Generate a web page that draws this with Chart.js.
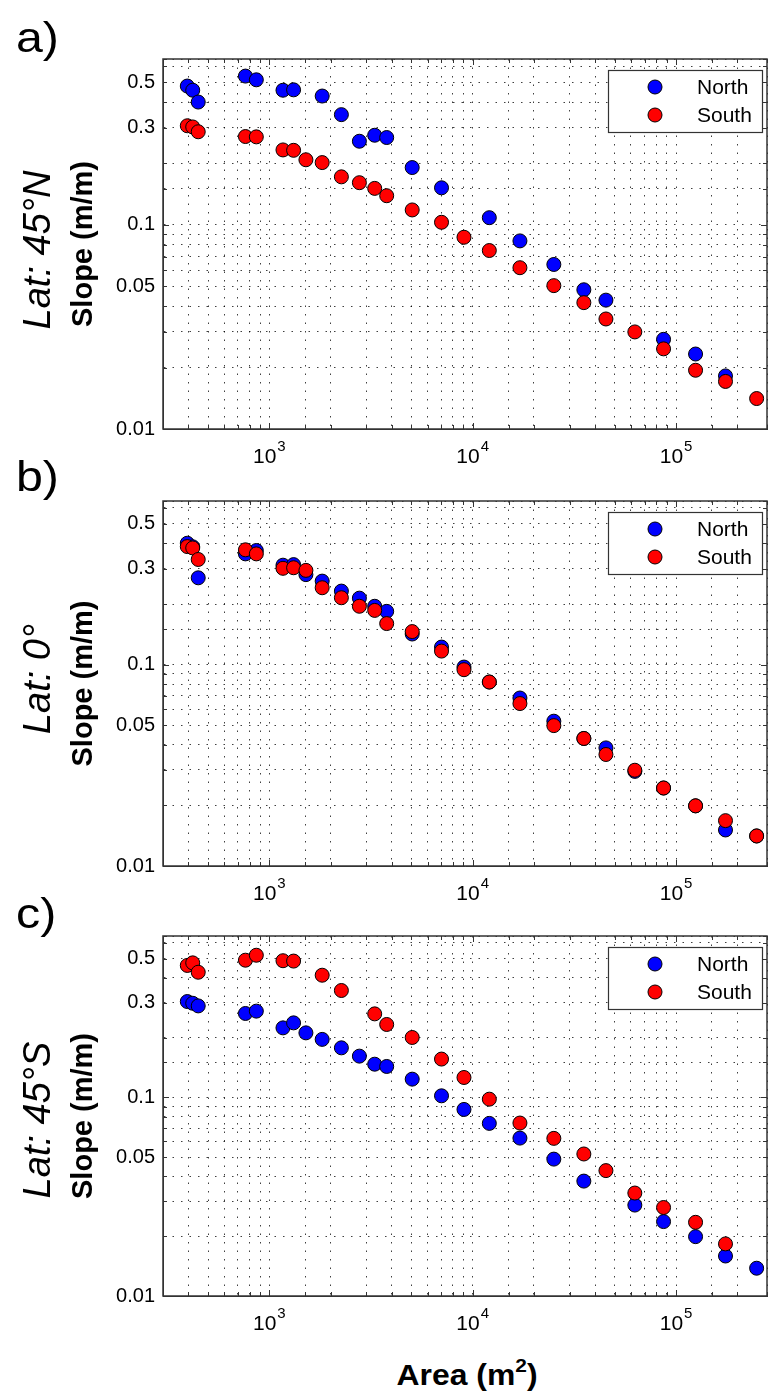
<!DOCTYPE html>
<html>
<head>
<meta charset="utf-8">
<script src="https://cdn.jsdelivr.net/npm/chart.js@4.4.1/dist/chart.umd.min.js"></script>
<style>
    body { margin: 0; background: #fff; }
    #page { position: relative; width: 769px; height: 1399px; overflow: hidden;
            font-family: "Liberation Sans", Arial, sans-serif; color: #000; }
    canvas { position: absolute; left: 0; }
    .letter { position: absolute; left: 16px; font-size: 42px; line-height: 42px;
              transform: scaleX(1.15); transform-origin: left center; }
    .lat { position: absolute; width: 300px; height: 40px; line-height: 40px; font-size: 38px;
           font-style: italic; text-align: center; white-space: nowrap; transform: rotate(-90deg); }
    #areaTitle { position: absolute; left: 317px; top: 1355px; width: 300px; height: 40px;
                 line-height: 40px; font-size: 29px; font-weight: bold; text-align: center;
                 white-space: nowrap; transform: scaleX(1.1); }
    #areaTitle sup { font-size: 19px; line-height: 0; vertical-align: 13px; }
</style>
</head>
<body>
<div id="page">
    <div id="areaTitle">Area (m<sup>2</sup>)</div>
</div>
<script>
// drainage area of each bin (m^2)
const areas = [395, 420, 447, 763, 863, 1167, 1316, 1513, 1819, 2261, 2772, 3297, 3776,
               5041, 7025, 9060, 12070, 17070, 25060, 35200, 45200, 62700, 86800,
               124700, 175000, 249000];

// slope (m/m) per panel, null where no marker is shown
const northA = [0.479, 0.457, 0.400, 0.536, 0.514, 0.457, 0.459, null, 0.428, 0.347, 0.257, 0.275, 0.268,
                0.191, 0.152, null, 0.1085, 0.0835, 0.064, 0.0481, 0.0428, null, 0.0275,
                0.0233, 0.0182, null];
const southA = [0.306, 0.302, 0.286, 0.271, 0.270, 0.233, 0.232, 0.2085, 0.202, 0.172, 0.161, 0.151, 0.139,
                0.1184, 0.103, 0.087, 0.0749, 0.0617, 0.0504, 0.0416, 0.0346, 0.0299, 0.0247,
                0.0194, 0.0171, 0.0141];

const northB = [0.401, 0.385, 0.270, 0.355, 0.369, 0.312, 0.314, 0.280, 0.260, 0.232, 0.214, 0.195, 0.184,
                0.142, 0.1223, 0.0973, 0.082, 0.0683, 0.0524, 0.043, 0.0386, 0.0295, 0.0244,
                0.0199, 0.0151, 0.0141];
const southB = [0.386, 0.380, 0.333, 0.372, 0.355, 0.301, 0.303, 0.294, 0.241, 0.215, 0.195, 0.186, 0.160,
                0.146, 0.1168, 0.0944, 0.082, 0.0641, 0.0498, 0.043, 0.0358, 0.0299, 0.0244,
                0.0199, 0.0168, 0.0141];

const northC = [0.304, 0.298, 0.289, 0.2647, 0.272, 0.224, 0.2374, 0.2114, 0.196, 0.1777, 0.1614, 0.147, 0.1432,
                0.1236, 0.1019, 0.087, 0.074, 0.0624, 0.0489, 0.0379, null, 0.0287, 0.0237,
                0.0199, 0.0159, 0.0138];
const southC = [0.462, 0.476, 0.427, 0.491, 0.520, 0.488, 0.486, null, 0.4125, 0.3455, null, 0.2635, 0.233,
                0.2004, 0.156, 0.126, 0.098, 0.0743, 0.0622, 0.0519, 0.0428, 0.033, 0.0279,
                0.0235, 0.0183, null];

const slopeTicks = [0.01, 0.05, 0.1, 0.3, 0.5];
const slopeTickLabels = ["0.01", "0.05", "0.1", "0.3", "0.5"];
const areaTicks = [1e3, 1e4, 1e5];
const areaTickExp = ["3", "4", "5"];
const seriesNames = ["North", "South"];
const latLabels = ["Lat: 45\u00B0N", "Lat: 0\u00B0", "Lat: 45\u00B0S"];
const letters = ["a)", "b)", "c)"];

const FONT = "'Liberation Sans', Arial, sans-serif";

const panels =
[
    { north: northA, south: southA, top: 0,   height: 475, plotTop: 59, plotBottom: 429, latY: 250,  letterTop: 17 },
    { north: northB, south: southB, top: 475, height: 430, plotTop: 26, plotBottom: 391, latY: 679,  letterTop: 456 },
    { north: northC, south: southC, top: 905, height: 494, plotTop: 31, plotBottom: 391, latY: 1120, letterTop: 893 }
];

function points(vals)
{
    const out = [];
    for(let i = 0; i < areas.length; i += 1)
    {
        if(vals[i] !== null)
        {
            out.push({ x: areas[i], y: vals[i] });
        }
    }
    return out;
}

function findLabel(v, ticks, labels)
{
    for(let i = 0; i < ticks.length; i += 1)
    {
        if(Math.abs(v - ticks[i]) / ticks[i] < 1e-6)
        {
            return labels[i];
        }
    }
    return "";
}

function isDecade(v)
{
    const l = Math.log10(v);
    return Math.abs(l - Math.round(l)) < 1e-6;
}

// box, inward tick marks, 10^n labels and in-axes legend
const framePlugin =
{
    id: "frame",
    afterDraw(chart)
    {
        const ctx = chart.ctx;
        const a = chart.chartArea;
        const xs = chart.scales.x;
        const ys = chart.scales.y;

        ctx.save();
        ctx.strokeStyle = "#333";
        ctx.lineWidth = 1;
        ctx.beginPath();
        for(const t of xs.ticks)
        {
            const px = Math.round(xs.getPixelForValue(t.value)) + 0.5;
            const len = isDecade(t.value) ? 6 : 4;
            ctx.moveTo(px, a.bottom);
            ctx.lineTo(px, a.bottom - len);
            ctx.moveTo(px, a.top);
            ctx.lineTo(px, a.top + len);
        }
        for(const t of ys.ticks)
        {
            const py = Math.round(ys.getPixelForValue(t.value)) + 0.5;
            const len = isDecade(t.value) ? 6 : 4;
            ctx.moveTo(a.left, py);
            ctx.lineTo(a.left + len, py);
            ctx.moveTo(a.right, py);
            ctx.lineTo(a.right - len, py);
        }
        ctx.stroke();

        ctx.lineWidth = 1.5;
        ctx.strokeRect(a.left, a.top, a.right - a.left, a.bottom - a.top);

        // x tick labels as 10 with a raised exponent
        ctx.fillStyle = "#000";
        ctx.textBaseline = "alphabetic";
        ctx.textAlign = "left";
        for(let i = 0; i < areaTicks.length; i += 1)
        {
            const px = xs.getPixelForValue(areaTicks[i]);
            ctx.font = "21px " + FONT;
            const wBase = ctx.measureText("10").width;
            ctx.font = "15px " + FONT;
            const wExp = ctx.measureText(areaTickExp[i]).width;
            const x0 = px - (wBase + wExp + 1) / 2;
            ctx.font = "21px " + FONT;
            ctx.fillText("10", x0, a.bottom + 34);
            ctx.font = "15px " + FONT;
            ctx.fillText(areaTickExp[i], x0 + wBase + 1, a.bottom + 22);
        }

        // legend box
        const bw = 154;
        const bh = 62;
        const bx = a.right - 5 - bw;
        const by = a.top + 11;
        ctx.fillStyle = "#fff";
        ctx.fillRect(bx, by, bw, bh);
        ctx.lineWidth = 1.2;
        ctx.strokeStyle = "#333";
        ctx.strokeRect(bx + 0.5, by + 0.5, bw, bh);

        ctx.font = "21px " + FONT;
        ctx.textBaseline = "middle";
        const ds = chart.data.datasets;
        for(let i = 0; i < ds.length; i += 1)
        {
            const cy = by + 17 + i * 28;
            ctx.beginPath();
            ctx.arc(bx + 47, cy, 7, 0, Math.PI * 2);
            ctx.fillStyle = ds[i].backgroundColor;
            ctx.fill();
            ctx.lineWidth = 1;
            ctx.strokeStyle = "#000";
            ctx.stroke();
            ctx.fillStyle = "#000";
            ctx.fillText(ds[i].label, bx + 89, cy + 1);
        }
        ctx.restore();
    }
};

const page = document.getElementById("page");

panels.forEach(function(p, k)
{
    const canv = document.createElement("canvas");
    canv.width = 769;
    canv.height = p.height;
    canv.style.top = p.top + "px";
    page.appendChild(canv);

    const letter = document.createElement("div");
    letter.className = "letter";
    letter.style.top = p.letterTop + "px";
    letter.textContent = letters[k];
    page.appendChild(letter);

    const lat = document.createElement("div");
    lat.className = "lat";
    lat.style.left = (37 - 150) + "px";
    lat.style.top = (p.latY - 20) + "px";
    lat.textContent = latLabels[k];
    page.appendChild(lat);

    const xAxisHeight = p.height - p.plotBottom;

    new Chart(canv.getContext("2d"),
    {
        type: "scatter",
        data:
        {
            datasets:
            [{
                label: seriesNames[0],
                data: points(p.north),
                backgroundColor: "#0000ff",
                borderColor: "#000",
                borderWidth: 1,
                pointRadius: 7,
                order: 1
            },
            {
                label: seriesNames[1],
                data: points(p.south),
                backgroundColor: "#ff0000",
                borderColor: "#000",
                borderWidth: 1,
                pointRadius: 7,
                order: 0
            }]
        },
        options:
        {
            responsive: false,
            animation: false,
            layout: { autoPadding: false, padding: { top: p.plotTop, right: 2, left: 0, bottom: 0 } },
            plugins: { legend: { display: false }, tooltip: { enabled: false } },
            scales:
            {
                x:
                {
                    type: "logarithmic",
                    min: 300,
                    max: 280000,
                    afterFit: function(s) { s.height = xAxisHeight; },
                    grid: { color: "rgba(0,0,0,0.75)", lineWidth: 1, drawTicks: false },
                    border: { display: true, color: "#333", dash: [1.5, 7] },
                    ticks: { display: false, autoSkip: false, maxRotation: 0 }
                },
                y:
                {
                    type: "logarithmic",
                    min: 0.01,
                    max: 0.65,
                    afterFit: function(s) { s.width = 163; },
                    grid: { color: "rgba(0,0,0,0.75)", lineWidth: 1, drawTicks: false },
                    border: { display: true, color: "#333", dash: [1.5, 7] },
                    ticks:
                    {
                        autoSkip: false,
                        padding: 8,
                        color: "#000",
                        font: { family: FONT, size: 20 },
                        callback: function(v) { return findLabel(v, slopeTicks, slopeTickLabels); }
                    },
                    title:
                    {
                        display: true,
                        text: "Slope (m/m)",
                        color: "#000",
                        font: { family: FONT, size: 29, weight: "bold" },
                        padding: { top: 67, bottom: 0 }
                    }
                }
            }
        },
        plugins: [framePlugin]
    });
});
</script>
</body>
</html>
